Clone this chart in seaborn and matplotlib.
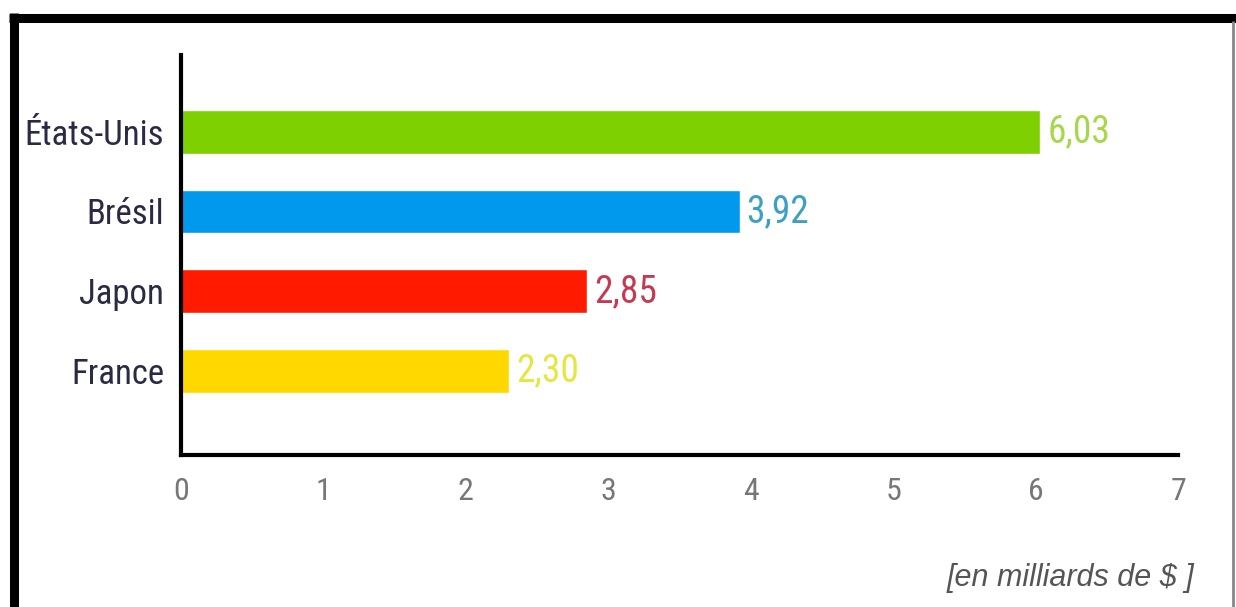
import matplotlib
matplotlib.use("Agg")
import matplotlib.pyplot as plt
import seaborn as sns
import pandas as pd
from matplotlib.lines import Line2D
from matplotlib import font_manager

# data
pays = ["États-Unis", "Brésil", "Japon", "France"]
valeurs = [6.03, 3.92, 2.85, 2.30]
couleurs = ["#7ed000", "#0099ee", "#ff1a00", "#ffd800"]
couleurs_txt = ["#a6d84a", "#3e9fc4", "#c43a52", "#e6e640"]
ticks_x = [0, 1, 2, 3, 4, 5, 6, 7]

sns.set_style("white")

# pick a narrow font if one is around
noms = {f.name for f in font_manager.fontManager.ttflist}
etroites = ["Liberation Sans Narrow", "Roboto Condensed", "Open Sans Condensed"]
famille = [n for n in etroites if n in noms] + ["DejaVu Sans"]
plt.rcParams['font.family'] = famille
plt.rcParams['font.stretch'] = 'condensed'

df = pd.DataFrame({"pays": pays, "valeur": valeurs})

fig = plt.figure(figsize=(12.36, 6.07), dpi=100)
ax = fig.add_axes([0.1464, 0.2504, 0.807, 0.659])

sns.barplot(data=df, x="valeur", y="pays", hue="pays", palette=couleurs,
            width=0.55, legend=False, ax=ax, saturation=1)

for i, v in enumerate(valeurs):
    ax.text(v + 0.05, i, f"{v:.2f}".replace(".", ","), va="center", ha="left",
            fontsize=27, color=couleurs_txt[i], fontstretch="condensed")

ax.set_xlim(0, 7)
ax.set_ylim(4.05, -0.96)
ax.set_xticks(ticks_x)
ax.set_xticklabels([str(t) for t in ticks_x], fontsize=23, color="#777777",
                   fontstretch="condensed")
ax.set_yticks(range(len(pays)))
ax.set_yticklabels(pays, fontsize=25, color="#2a2a45", fontstretch="condensed")
ax.set_xlabel("")
ax.set_ylabel("")

for s in ["top", "right"]:
    ax.spines[s].set_visible(False)
for s in ["left", "bottom"]:
    ax.spines[s].set_color("black")
    ax.spines[s].set_linewidth(3)
ax.tick_params(axis="x", direction="out", length=11, width=3, color="black", pad=5)
ax.tick_params(axis="y", length=0, pad=12)

fig.text(0.966, 0.048, "[en milliards de $ ]", ha="right", va="center",
         fontsize=22, style="italic", color="#555555",
         family=["Liberation Sans", "DejaVu Sans"], fontstretch="normal")

# frame around the picture
fig.add_artist(Line2D([0.007, 1.0], [0.971, 0.971], color="black", lw=6.5,
                      solid_capstyle="butt", transform=fig.transFigure))
fig.add_artist(Line2D([0.0113, 0.0113], [0.0, 0.978], color="black", lw=6.5,
                      solid_capstyle="butt", transform=fig.transFigure))
fig.add_artist(Line2D([0.9975, 0.9975], [0.0, 0.965], color="#888888", lw=2,
                      solid_capstyle="butt", transform=fig.transFigure))

fig.savefig("out.png", dpi=100)
